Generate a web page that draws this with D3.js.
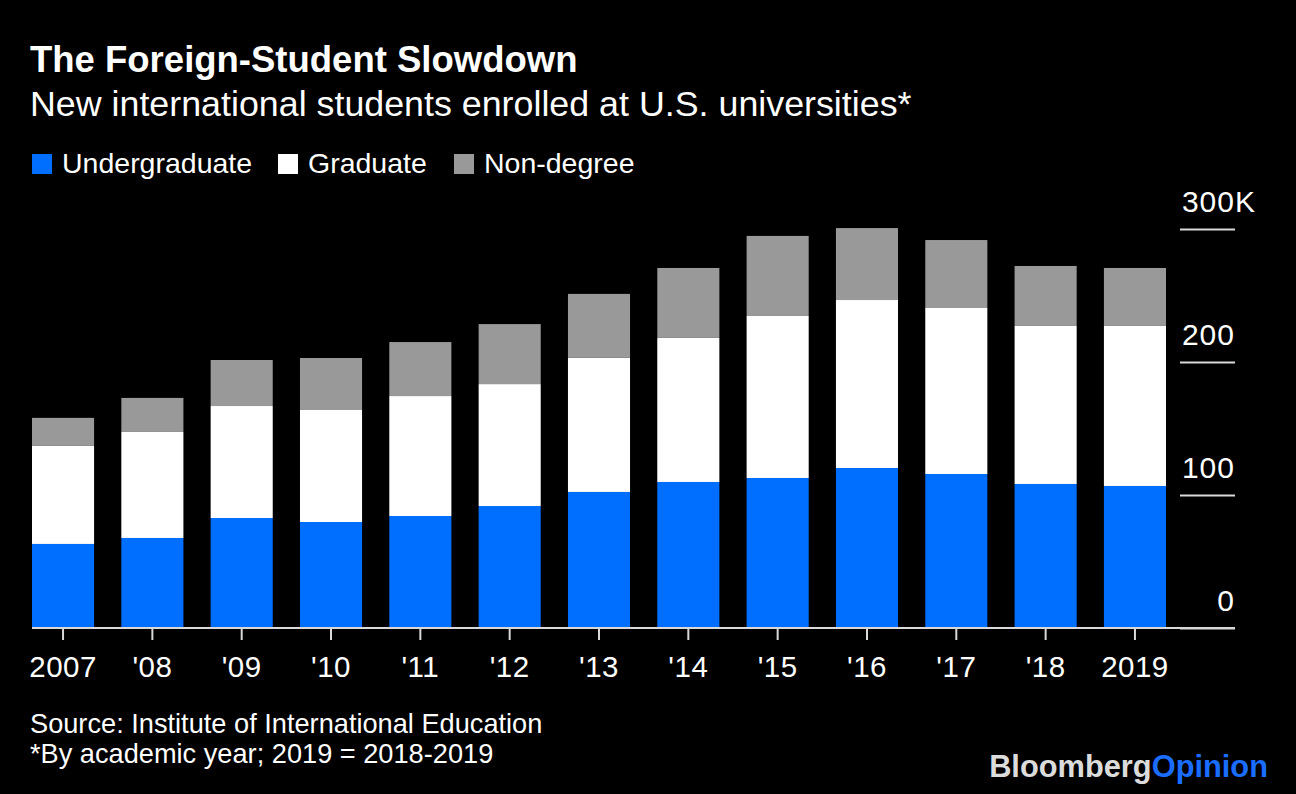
<!DOCTYPE html>
<html>
<head>
<meta charset="utf-8">
<script src="https://cdn.jsdelivr.net/npm/d3@7"></script>
<style>
  html, body { margin: 0; padding: 0; background: #000; }
  svg { display: block; }
  text { font-family: "Liberation Sans", Arial, sans-serif; fill: #fff; }
</style>
</head>
<body>
<svg id="chart" width="1296" height="794"></svg>
<script>
// ---- Data (thousands of new international students) ----
const years = ["2007", "'08", "'09", "'10", "'11", "'12", "'13", "'14", "'15", "'16", "'17", "'18", "2019"];
const undergraduate = [63.2, 67.7, 82.7, 79.7, 84.2, 91.7, 102.3, 109.8, 112.8, 120.3, 115.8, 108.3, 106.8];
const graduate      = [73.7, 79.7, 84.2, 84.2, 90.2, 91.7, 100.8, 108.3, 121.8, 126.3, 124.8, 118.8, 120.3];
const nonDegree     = [21.1, 25.6, 34.6, 39.1, 40.6, 45.1, 48.1, 52.6, 60.2, 54.1, 51.1, 45.1, 43.6];
const seriesNames = ["Undergraduate", "Graduate", "Non-degree"];
const seriesColors = ["#006fff", "#ffffff", "#999999"];
const yTicks = [0, 100, 200, 300];
const yTickLabels = ["0", "100", "200", "300"];

const rows = years.map((y, i) => ({
  year: y,
  "Undergraduate": undergraduate[i],
  "Graduate": graduate[i],
  "Non-degree": nonDegree[i]
}));

const svg = d3.select("#chart");
svg.append("rect").attr("width", 1296).attr("height", 794).attr("fill", "#000");

// Title & subtitle
svg.append("text").attr("x", 30).attr("y", 72)
  .style("font-size", "36.5px").style("font-weight", "bold")
  .text("The Foreign-Student Slowdown");
svg.append("text").attr("x", 30).attr("y", 116)
  .style("font-size", "35.8px")
  .text("New international students enrolled at U.S. universities*");

// Legend
const legendX = [32, 278, 454];
const legend = svg.append("g");
seriesNames.forEach((name, i) => {
  legend.append("rect").attr("x", legendX[i]).attr("y", 154)
    .attr("width", 20).attr("height", 20).attr("fill", seriesColors[i]);
  legend.append("text").attr("x", legendX[i] + 30).attr("y", 173)
    .style("font-size", "28.5px").text(name);
});

// Scales
const x = d3.scaleBand().domain(years).range([32, 1166]).paddingInner(0.305).paddingOuter(0);
const y = d3.scaleLinear().domain([0, 300]).range([628, 229]);
const color = d3.scaleOrdinal().domain(seriesNames).range(seriesColors);

// Bars
const stacked = d3.stack().keys(seriesNames)(rows);
svg.append("g").selectAll("g").data(stacked).join("g")
  .attr("fill", d => color(d.key))
  .selectAll("rect").data(d => d).join("rect")
  .attr("x", d => x(d.data.year))
  .attr("width", x.bandwidth())
  .attr("y", d => y(d[1]))
  .attr("height", d => y(d[0]) - y(d[1]));

// Y axis (right side, short tick lines)
const axisFont = "'Liberation Sans', Arial, sans-serif";
const yAxis = svg.append("g").attr("transform", "translate(1180,0)")
  .call(d3.axisRight(y).tickValues(yTicks).tickSize(55).tickFormat((d, i) => yTickLabels[i]));
yAxis.select(".domain").remove();
yAxis.selectAll(".tick line").attr("stroke", "#d9d9d9").attr("stroke-width", 2);
yAxis.selectAll(".tick text")
  .attr("x", 55).attr("y", -18).attr("dy", 0)
  .attr("text-anchor", "end")
  .style("font-size", "30px").style("letter-spacing", "1px").style("font-family", axisFont)
  .attr("fill", "#fff");
yAxis.selectAll(".tick").filter(d => d === 300).append("text")
  .attr("x", 55).attr("y", -18)
  .attr("text-anchor", "start")
  .style("font-size", "30px").style("font-family", axisFont).attr("fill", "#fff")
  .text("K");

// Baseline
svg.append("line").attr("x1", 32).attr("x2", 1235)
  .attr("y1", y(0)).attr("y2", y(0))
  .attr("stroke", "#d9d9d9").attr("stroke-width", 2);

// X axis
const xAxis = svg.append("g").attr("transform", `translate(0,${y(0)})`)
  .call(d3.axisBottom(x).tickSize(12));
xAxis.select(".domain").remove();
xAxis.selectAll(".tick line").attr("stroke", "#d9d9d9").attr("stroke-width", 2);
xAxis.selectAll(".tick text")
  .attr("y", 49).attr("dy", 0)
  .style("font-size", "29.5px").style("letter-spacing", "0.5px").style("font-family", axisFont)
  .attr("fill", "#fff");

// Footnotes
svg.append("text").attr("x", 30).attr("y", 733).style("font-size", "27.2px")
  .text("Source: Institute of International Education");
svg.append("text").attr("x", 30).attr("y", 763).style("font-size", "27.2px")
  .text("*By academic year; 2019 = 2018-2019");

// Logo
const logo = svg.append("text").attr("x", 1268).attr("y", 777)
  .attr("text-anchor", "end")
  .style("font-size", "30.8px").style("font-weight", "bold");
logo.append("tspan").style("fill", "#dcdcdc").text("Bloomberg");
logo.append("tspan").style("fill", "#1a6dff").text("Opinion");
</script>
</body>
</html>
